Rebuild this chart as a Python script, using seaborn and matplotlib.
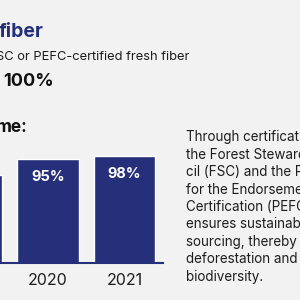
import matplotlib
matplotlib.use("Agg")
import matplotlib.pyplot as plt
import seaborn as sns
import pandas as pd

# data
years = ["2019", "2020", "2021"]
shares = [80, 95, 98]
bar_labels = ["80%", "95%", "98%"]
side_text = [
    "Through certification by",
    "the Forest Stewardship Coun-",
    "cil (FSC) and the Programme",
    "for the Endorsement of Forest",
    "Certification (PEFC), we",
    "ensures sustainable fiber",
    "sourcing, thereby preventing",
    "deforestation and protecting",
    "biodiversity.",
]

navy = "#26307a"
bg = "#f2f2f2"
ink = "#1e1e1e"

sns.set_theme(style="white")
plt.rcParams["font.family"] = ["Inter", "DejaVu Sans"]

df = pd.DataFrame({"year": years, "share": shares})

fig = plt.figure(figsize=(3, 3), dpi=100, facecolor=bg)
W, H = 300, 300

# bar axes: baseline at y=263px, spans x 0..163px
ax = fig.add_axes([0, 1 - 263 / H, 163 / W, 133 / H])
ax.set_facecolor(bg)
sns.barplot(data=df, x="year", y="share", color=navy, saturation=1,
            width=0.8, ax=ax)
ax.set_xlim(0.375, 2.5)
ax.set_ylim(0, 121.5)
for s in ["left", "top", "right"]:
    ax.spines[s].set_visible(False)
ax.spines["bottom"].set_color(navy)
ax.spines["bottom"].set_linewidth(1.5)
ax.set_yticks([])
ax.set_xlabel("")
ax.set_ylabel("")
ax.tick_params(axis="x", length=0, pad=7, labelsize=11.5, labelcolor=ink)
for i, (v, lab) in enumerate(zip(shares, bar_labels)):
    ax.text(i, v - 16.5, lab, ha="center", va="center", color="white",
            fontsize=10.5, fontweight="bold")

# headings (cropped from a larger page)
fig.text(-1 / W, 1 - 32 / H, "fiber", ha="left", va="center",
         color=navy, fontsize=14, fontweight="bold")
fig.text(-4 / W, 1 - 57 / H, "SC or PEFC-certified fresh fiber", ha="left",
         va="center", color=ink, fontsize=9.3)
fig.text(3 / W, 1 - 82 / H, "100%", ha="left", va="center",
         color="#111111", fontsize=13, fontweight="bold")
fig.text(-4 / W, 1 - 127 / H, "me:", ha="left", va="center",
         color="#111111", fontsize=12.5, fontweight="bold")

for k, line in enumerate(side_text):
    fig.text(186 / W, 1 - (137 + 17.5 * k) / H, line, ha="left",
             va="center", color=ink, fontsize=9.7)

fig.savefig("out.png", dpi=100, facecolor=bg)
